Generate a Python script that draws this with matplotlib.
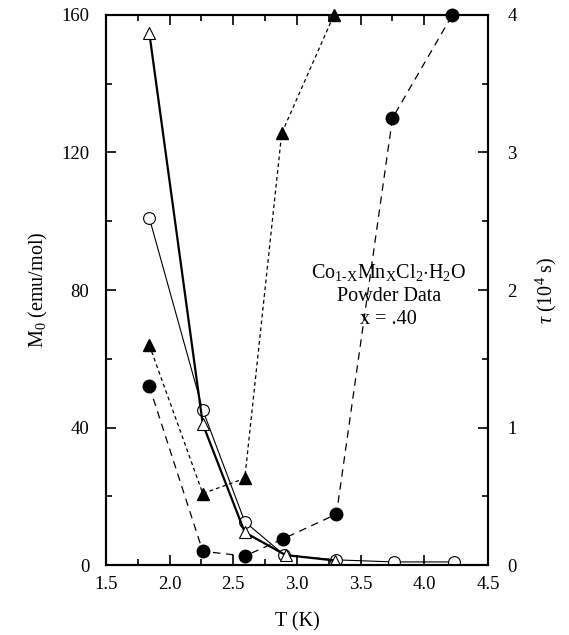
import matplotlib.pyplot as plt
from matplotlib.ticker import MultipleLocator

plt.rcParams["font.family"] = ["Liberation Serif", "DejaVu Serif"]
plt.rcParams["mathtext.fontset"] = "custom"
plt.rcParams["mathtext.rm"] = "Liberation Serif"
plt.rcParams["mathtext.it"] = "Liberation Serif:italic"

# M0 (left axis), open symbols
t_tri_open = [1.84, 2.26, 2.59, 2.91, 3.30]
m_tri_open = [154.8, 41.0, 9.5, 2.9, 1.3]
t_circ_open = [1.84, 2.26, 2.59, 2.90, 3.31, 3.76, 4.23]
m_circ_open = [101.0, 45.1, 12.6, 2.9, 1.5, 0.9, 0.9]

# tau (right axis, 10^4 s), filled symbols
t_tri_fill = [1.84, 2.26, 2.59, 2.88, 3.29]
tau_tri_fill = [1.60, 0.52, 0.63, 3.14, 4.0]
t_circ_fill = [1.84, 2.26, 2.59, 2.89, 3.31, 3.75, 4.22]
tau_circ_fill = [1.30, 0.10, 0.065, 0.19, 0.37, 3.25, 4.0]

fig = plt.figure(figsize=(5.69, 6.35), dpi=100)
ax = fig.add_axes([0.1863, 0.1102, 0.6713, 0.8662])
ax2 = ax.twinx()

ax.plot(t_circ_open, m_circ_open, color="black", linewidth=0.8,
        marker="o", markersize=8.5, markerfacecolor="white",
        markeredgecolor="black", markeredgewidth=0.8, zorder=3)
ax.plot(t_tri_open, m_tri_open, color="black", linewidth=1.6,
        marker="^", markersize=8.5, markerfacecolor="white",
        markeredgecolor="black", markeredgewidth=0.8, zorder=4)

ax2.plot(t_tri_fill, tau_tri_fill, color="black", linewidth=0.9,
         linestyle=(0, (3, 2.5)), marker="^", markersize=9,
         markerfacecolor="black", markeredgecolor="black", clip_on=False)
ax2.plot(t_circ_fill, tau_circ_fill, color="black", linewidth=0.9,
         linestyle=(0, (6, 4.5)), marker="o", markersize=9,
         markerfacecolor="black", markeredgecolor="black", clip_on=False)

ax.set_xlim(1.5, 4.5)
ax.set_ylim(0, 160)
ax2.set_ylim(0, 4)

ax.xaxis.set_major_locator(MultipleLocator(0.5))
ax.xaxis.set_minor_locator(MultipleLocator(0.25))
ax.yaxis.set_major_locator(MultipleLocator(40))
ax.yaxis.set_minor_locator(MultipleLocator(20))
ax2.yaxis.set_major_locator(MultipleLocator(1))
ax2.yaxis.set_minor_locator(MultipleLocator(0.5))

ax.set_xticks([1.5, 2.0, 2.5, 3.0, 3.5, 4.0, 4.5])
ax.set_xticklabels(["1.5", "2.0", "2.5", "3.0", "3.5", "4.0", "4.5"])

for a in (ax, ax2):
    a.tick_params(which="both", direction="in", labelsize=13.5, width=1.2)
    a.tick_params(which="major", length=7)
    a.tick_params(which="minor", length=4)
    for s in a.spines.values():
        s.set_linewidth(1.5)
ax.tick_params(axis="x", which="both", top=True, pad=8)
ax.tick_params(axis="y", which="both", pad=12)
ax2.tick_params(axis="y", which="both", pad=14)

ax.set_xlabel("T (K)", fontsize=14.5, labelpad=14)
ax.set_ylabel(r"M$_0$ (emu/mol)", fontsize=14.5, labelpad=8)
ax2.set_ylabel(r"$\tau$ (10$^4$ s)", fontsize=14.5, labelpad=12)

ax.text(3.72, 85, r"Co$_{1\text{-}\mathrm{X}}$Mn$_\mathrm{X}$Cl$_2$$\cdot$H$_2$O",
        ha="center", va="center", fontsize=14.5)
ax.text(3.72, 78, "Powder Data", ha="center", va="center", fontsize=14.5)
ax.text(3.72, 71.3, "x = .40", ha="center", va="center", fontsize=14.5)

fig.savefig("out.png", dpi=100)
